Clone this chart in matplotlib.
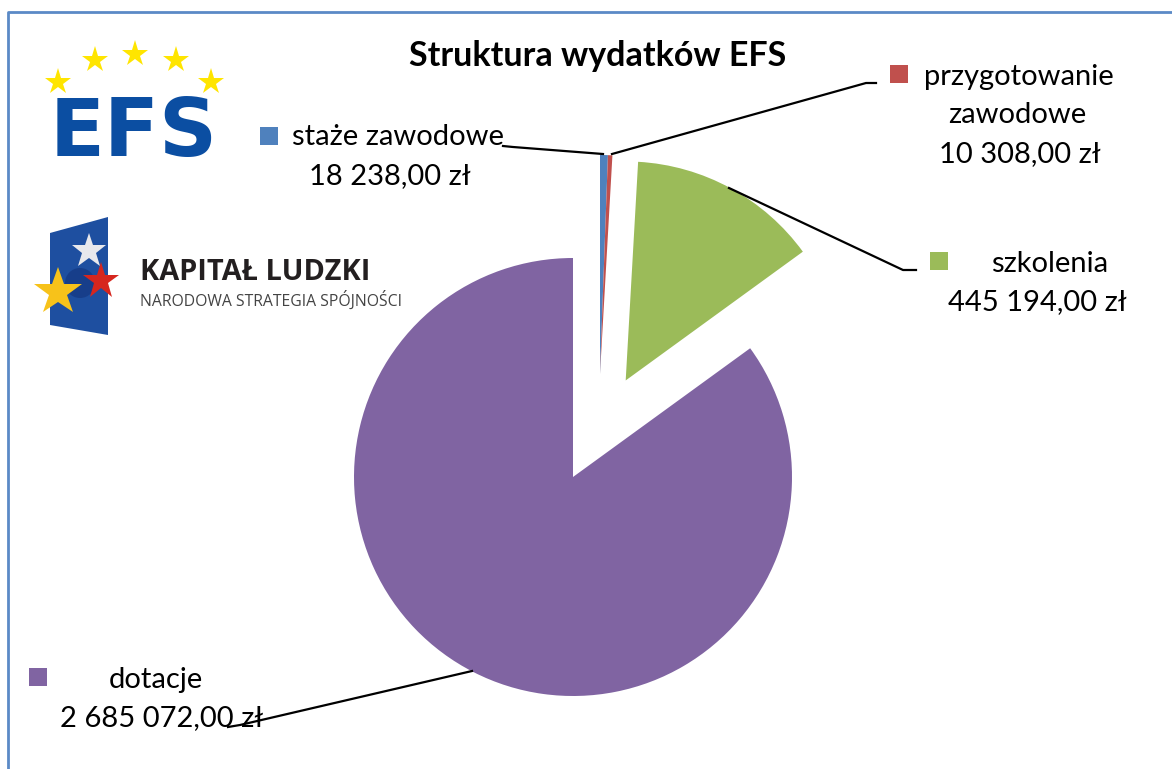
import matplotlib
matplotlib.use("Agg")
import matplotlib.pyplot as plt
from matplotlib.patches import Polygon, Rectangle, Circle
from matplotlib.lines import Line2D

# data
categories = ["staże zawodowe", "przygotowanie\nzawodowe", "szkolenia", "dotacje"]
values = [18238.00, 10308.00, 445194.00, 2685072.00]
value_labels = ["18 238,00 zł", "10 308,00 zł", "445 194,00 zł", "2 685 072,00 zł"]
colors = ["#4F81BD", "#C0504D", "#9BBB59", "#8064A2"]

W, H = 1172, 769
FONT = "Lato"


def py(y):
    # pixel row -> data y
    return H - y


fig = plt.figure(figsize=(W / 100, H / 100), dpi=100)
ax = fig.add_axes([0, 0, 1, 1])

cx, cy, r = 573, py(477), 219
wedges, _ = ax.pie(values, colors=colors, startangle=90, counterclock=False,
                   center=(cx, cy), radius=r, explode=[0, 0, 110, 0],
                   wedgeprops=dict(linewidth=0))
# the two thin slices are pulled up and a bit to the right
for w in wedges[:2]:
    w.set_center((cx + 27, cy + 103))

ax.set_xlim(0, W)
ax.set_ylim(0, H)
ax.set_aspect("auto")
ax.axis("off")

# title
ax.text(598, py(56), "Struktura wydatków EFS", ha="center", va="center",
        fontsize=24.5, fontweight="bold", family=FONT, color="black")

# labels: square centre + text lines (centre x, y, text)
lab_fs = 21
label_pos = [
    dict(sq=(269, 136), lines=[(398, 137, "staże zawodowe"), (390, 176, value_labels[0])]),
    dict(sq=(899, 74), lines=[(1019, 77, "przygotowanie"), (1017, 115, "zawodowe"),
                              (1020, 154, value_labels[1])]),
    dict(sq=(939, 261), lines=[(1050, 264, "szkolenia"), (1037, 302, value_labels[2])]),
    dict(sq=(38, 677), lines=[(156, 680, "dotacje"), (162, 718, value_labels[3])]),
]
for i, lp in enumerate(label_pos):
    sx, sy = lp["sq"]
    ax.add_patch(Rectangle((sx - 9, py(sy) - 9), 18, 18, color=colors[i], lw=0))
    for tx, ty, t in lp["lines"]:
        ax.text(tx, py(ty), t, ha="center", va="center", fontsize=lab_fs,
                family=FONT, color="black")

# leader lines
leaders = [
    [(503, 146), (513, 147), (603, 154)],
    [(612, 154), (866, 83), (876, 83)],
    [(729, 188), (903, 270), (916, 270)],
    [(472, 671), (240, 725), (228, 727)],
]
for pts in leaders:
    ax.add_line(Line2D([p[0] for p in pts], [py(p[1]) for p in pts],
                       color="black", lw=1.6))

# EFS logo
for sx, sy in [(58, 82), (95, 60), (135, 54), (176, 60), (211, 82)]:
    ax.plot(sx, py(sy), marker="*", markersize=20, color="#FFE500",
            markeredgewidth=0)
ax.text(134, py(134), "EFS", ha="center", va="center", fontsize=58,
        fontweight="bold", family="DejaVu Sans", color="#0B4EA2")

# Kapitał Ludzki logo
ax.add_patch(Polygon([(50, py(233)), (108, py(217)), (108, py(335)), (50, py(325))],
                     closed=True, color="#1E4FA0", lw=0))
ax.add_patch(Circle((80, py(283)), 15, color="#173E8A", lw=0))
ax.plot(89, py(251), marker="*", markersize=26, color="#E8E8EC", markeredgewidth=0)
ax.plot(101, py(281), marker="*", markersize=28, color="#D6261E", markeredgewidth=0)
ax.plot(58, py(292), marker="*", markersize=36, color="#F7C21A", markeredgewidth=0)
ax.text(140, py(273), "KAPITAŁ LUDZKI", ha="left", va="center", fontsize=20.8,
        fontweight="bold", family="Open Sans", color="#231F20")
ax.text(140, py(300), "NARODOWA STRATEGIA SPÓJNOŚCI", ha="left", va="center",
        fontsize=11.3, family="Open Sans", color="#444444")

# frame (left and top edges visible)
ax.add_line(Line2D([8, 8, W], [0, py(12), py(12)], color="#5B8AC6", lw=2))

fig.savefig("out.png", dpi=100)
